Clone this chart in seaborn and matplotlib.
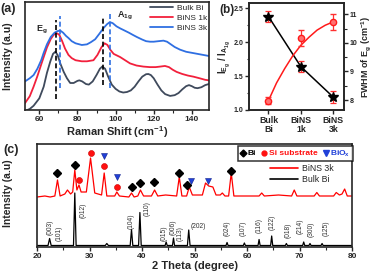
import numpy as np
import pandas as pd
import matplotlib
matplotlib.use("Agg")
import matplotlib.pyplot as plt
import seaborn as sns
from matplotlib.lines import Line2D
from matplotlib.ticker import MultipleLocator

# ---- (a) Raman spectra, (shift, intensity) ----
raman_bulk = [(52.5, -0.03), (55, -0.01), (57, 0.02), (60, 0.09), (62.3, 0.2), (64, 0.33), (65.8, 0.44),
              (67.2, 0.51), (68.4, 0.53), (69.6, 0.5), (71, 0.42), (72.8, 0.34), (74.5, 0.28), (76.2, 0.235),
              (78, 0.235), (80, 0.255), (81, 0.26), (82.5, 0.25), (84.5, 0.225), (86, 0.22), (88, 0.25),
              (90, 0.31), (91.8, 0.37), (93, 0.39), (94.5, 0.37), (96, 0.3), (98, 0.22), (100, 0.18),
              (102, 0.155), (104, 0.145), (106, 0.15), (108, 0.165), (110, 0.2), (112, 0.25), (114, 0.295),
              (116, 0.318), (117.2, 0.32), (118.5, 0.31), (120, 0.28), (122, 0.22), (124, 0.165), (126, 0.13),
              (128.6, 0.113), (131, 0.12), (133, 0.14), (135, 0.175), (137, 0.205), (138.5, 0.215),
              (140, 0.205), (141.5, 0.19), (143, 0.186), (145, 0.195), (147, 0.215), (149, 0.226)]
raman_1k = [(52.5, 0.045), (55, 0.11), (57, 0.2), (59, 0.3), (61, 0.41), (62.3, 0.48), (64, 0.57), (66, 0.65),
            (67.5, 0.69), (69.2, 0.705), (70.5, 0.69), (72, 0.63), (73.5, 0.56), (75.3, 0.5), (77, 0.47),
            (79, 0.45), (82.3, 0.44), (85, 0.44), (88.4, 0.45), (90.5, 0.5), (92.5, 0.57), (94.2, 0.61),
            (95.7, 0.595), (97.2, 0.55), (99, 0.51), (102.4, 0.48), (105, 0.45), (107.6, 0.42), (111, 0.4),
            (114.6, 0.39), (118, 0.385), (121, 0.385), (123.4, 0.39), (125.9, 0.396), (128, 0.385),
            (130, 0.36), (132, 0.34), (135, 0.32), (138, 0.305), (140.8, 0.295), (144, 0.28), (147, 0.265),
            (149, 0.26)]
raman_3k = [(52.5, 0.25), (55, 0.28), (57, 0.31), (59, 0.37), (61, 0.45), (62.3, 0.52), (64, 0.6), (66, 0.67),
            (68, 0.71), (69.5, 0.725), (71, 0.73), (72.5, 0.71), (74, 0.68), (75.3, 0.66), (77, 0.63),
            (79, 0.61), (82.3, 0.594), (85, 0.6), (87, 0.62), (89.3, 0.648), (91.5, 0.7), (93.5, 0.75),
            (95.5, 0.79), (97, 0.81), (98.5, 0.8), (100.5, 0.77), (102.5, 0.75), (104.1, 0.736), (107, 0.71),
            (109, 0.69), (111.1, 0.67), (114, 0.645), (116, 0.63), (118.1, 0.625), (120, 0.625),
            (122.5, 0.63), (125.1, 0.635), (127, 0.625), (129, 0.6), (131, 0.575), (133.8, 0.55),
            (137, 0.53), (140, 0.52), (143, 0.51), (146, 0.5), (149, 0.49)]
raman_names = ["Bulk Bi", "BiNS 1k", "BiNS 3k"]
raman_colors = ["#3f4a5c", "#f2203c", "#2f6fe2"]
# dashed guide lines: (position, ymin, ymax, colour)
peak_lines = [(68.8, 0.085, 0.83, "black"), (70.6, 0.19, 0.87, "#2f6fe2"),
              (93.6, 0.22, 0.86, "black"), (97.1, 0.19, 0.9, "#2f6fe2")]

# ---- (b) ratio and FWHM ----
samples = ["Bulk\nBi", "BiNS\n1k", "BiNS\n3k"]
ratio = [2.38, 1.64, 1.19]
ratio_err = [0.08, 0.08, 0.09]
fwhm = [7.98, 10.16, 10.74]
fwhm_err = [0.12, 0.28, 0.28]
fit_x = [0, 0.25, 0.5, 0.75, 1.0, 1.25, 1.5, 1.75, 2.0]
fit_y = [7.98, 8.6, 9.1, 9.55, 9.92, 10.2, 10.45, 10.62, 10.74]

# ---- (c) XRD patterns (2theta, intensity) ----
xrd_bulk = [(20, 0.015), (22.1, 0.015), (22.4, 0.085), (22.7, 0.015), (26.95, 0.015), (27.2, 0.54),
            (27.45, 0.015), (33.0, 0.015), (33.3, 0.035), (33.6, 0.015), (37.75, 0.015), (38.0, 0.175),
            (38.25, 0.015), (39.35, 0.015), (39.6, 0.345), (39.85, 0.015), (44.4, 0.015), (44.6, 0.05),
            (44.8, 0.015), (45.8, 0.015), (46.0, 0.09), (46.2, 0.015), (48.65, 0.015), (48.9, 0.17),
            (49.15, 0.015), (56.0, 0.015), (56.2, 0.045), (56.4, 0.015), (59.3, 0.015), (59.5, 0.04),
            (59.7, 0.015), (62.1, 0.015), (62.3, 0.075), (62.5, 0.015), (64.5, 0.015), (64.7, 0.11),
            (64.9, 0.015), (67.3, 0.015), (67.5, 0.035), (67.7, 0.015), (70.6, 0.015), (70.8, 0.05),
            (71.0, 0.015), (71.8, 0.015), (72.0, 0.035), (72.2, 0.015), (74.1, 0.015), (74.3, 0.035),
            (74.5, 0.015), (80, 0.015)]
xrd_3k = [(20, 0.50), (21.5, 0.51), (22.5, 0.50), (23.4, 0.51), (23.9, 0.67), (24.4, 0.51), (25.3, 0.53),
          (25.8, 0.57), (26.4, 0.53), (26.8, 0.55), (27.2, 0.77), (27.6, 0.57), (28.0, 0.62), (28.4, 0.55),
          (29.4, 0.55), (30.2, 0.89), (31.0, 0.54), (32.3, 0.52), (32.8, 0.74), (33.3, 0.51), (34.8, 0.51),
          (35.2, 0.55), (35.7, 0.51), (37.5, 0.50), (38.0, 0.54), (38.5, 0.50), (39.2, 0.51), (39.7, 0.57),
          (40.3, 0.51), (41.8, 0.51), (42.4, 0.57), (43.0, 0.51), (44.5, 0.52), (46.6, 0.51), (47.1, 0.70),
          (47.6, 0.51), (48.5, 0.51), (49.0, 0.60), (49.6, 0.52), (51.5, 0.52), (52.1, 0.64), (52.7, 0.61),
          (53.5, 0.60), (54.1, 0.52), (54.9, 0.52), (55.3, 0.54), (55.8, 0.51), (56.5, 0.51), (57.0, 0.74),
          (57.5, 0.51), (60.0, 0.51), (62.3, 0.51), (62.8, 0.54), (63.3, 0.51), (66.0, 0.52), (68.5, 0.51),
          (69.0, 0.57), (69.5, 0.51), (72.8, 0.51), (73.3, 0.545), (73.8, 0.51), (76.5, 0.51),
          (77.0, 0.545), (77.6, 0.52), (78.1, 0.53), (78.6, 0.58), (79.1, 0.51), (80, 0.51)]
bi_marks = [(23.9, 0.737), (27.2, 0.82), (38.0, 0.60), (39.7, 0.643), (42.3, 0.653), (47.0, 0.737),
            (48.6, 0.62), (57.0, 0.763)]
si_marks = [(28.0, 0.67), (30.2, 0.943), (32.8, 0.81), (35.2, 0.60)]
biox_marks = [(32.8, 0.91), (35.2, 0.697), (49.3, 0.663), (52.5, 0.663)]
hkl_labels = [("(003)", 22.5, 0.195), ("(101)", 24.2, 0.14), ("(012)", 28.8, 0.365), ("(104)", 38.0, 0.26),
              ("(110)", 41.0, 0.38), ("(015)", 44.2, 0.14), ("(006)", 46.0, 0.2), ("(113)", 47.2, 0.13),
              ("(024)", 56.2, 0.19), ("(107)", 59.2, 0.19), ("(116)", 62.3, 0.215), ("(122)", 64.8, 0.25),
              ("(018)", 67.9, 0.165), ("(214)", 70.2, 0.205), ("(300)", 72.2, 0.175), ("(125)", 75.0, 0.185)]

sns.set_style("ticks")
plt.rcParams["font.family"] = ["Liberation Sans", "DejaVu Sans"]
plt.rcParams["mathtext.fontset"] = "custom"
plt.rcParams["mathtext.rm"] = "Liberation Sans"
plt.rcParams["mathtext.bf"] = "Liberation Sans:bold"
plt.rcParams["mathtext.it"] = "Liberation Sans:italic"
plt.rcParams["axes.linewidth"] = 1.2
plt.rcParams["xtick.major.width"] = 1.0
plt.rcParams["ytick.major.width"] = 1.0
plt.rcParams["xtick.minor.width"] = 0.8
plt.rcParams["ytick.minor.width"] = 0.8
plt.rcParams["xtick.major.size"] = 3
plt.rcParams["xtick.minor.size"] = 1.8
plt.rcParams["ytick.major.size"] = 3
plt.rcParams["ytick.minor.size"] = 1.8

fig = plt.figure(figsize=(3.73, 2.80), dpi=100)
ax_a = fig.add_axes([25/373, 1-110/280, 184/373, 108/280])
ax_b = fig.add_axes([249/373, 1-110/280, 95/373, 107/280])
ax_c = fig.add_axes([37/373, 1-247/280, 315/373, 103/280])

# ---------- (a) ----------
for pts, name, col in zip([raman_bulk, raman_1k, raman_3k], raman_names, raman_colors):
    df = pd.DataFrame(pts, columns=["shift", "intensity"])
    sns.lineplot(data=df, x="shift", y="intensity", color=col, lw=1.3, label=name, ax=ax_a)
for xpos, y0, y1, col in peak_lines:
    ax_a.vlines(xpos, y0, y1, colors=col, linestyles=(0, (3, 1.6)), lw=1.2)
ax_a.set_xlim(52.5, 149)
ax_a.set_ylim(-0.02, 1.0)
ax_a.set_yticks([])
ax_a.xaxis.set_major_locator(MultipleLocator(20))
ax_a.xaxis.set_minor_locator(MultipleLocator(10))
ax_a.tick_params(axis="x", labelsize=6, pad=1.5)
for t in ax_a.get_xticklabels():
    t.set_fontweight("bold")
ax_a.set_xlabel("Raman Shift (cm$^{\\mathbf{-1}}$)", fontsize=8, fontweight="bold", labelpad=0.5)
ax_a.set_ylabel("")
ax_a.text(58.3, 0.72, r"$\mathbf{E_g}$", fontsize=6.5)
ax_a.text(101, 0.85, r"$\mathbf{A_{1g}}$", fontsize=6.5)
ax_a.legend(loc="upper right", bbox_to_anchor=(1.02, 1.03), frameon=False, fontsize=6,
            handlelength=2.8, labelspacing=0.3, handletextpad=0.5, borderaxespad=0.2)
fig.text(0.0, 1-9/280, "(a)", fontsize=9, fontweight="bold", va="center")
fig.text(8/373, 1-56/280, "Intensity (a.u)", fontsize=7.5, fontweight="bold", rotation=90,
         ha="center", va="center")

# ---------- (b) ----------
xs = np.arange(len(samples))
ax_b2 = ax_b.twinx()
sns.lineplot(x=fit_x, y=fit_y, color="#ff1a1a", lw=1.1, ax=ax_b2)
ax_b2.errorbar(xs, fwhm, yerr=fwhm_err, fmt="o", ms=4.5, mfc="#ff7070", mec="#ff1a1a", mew=1.0,
               ecolor="#ff3030", elinewidth=0.9, capsize=2.2, capthick=0.9)
sns.lineplot(x=xs, y=ratio, color="black", lw=1.1, ax=ax_b)
ax_b.errorbar(xs, ratio, yerr=ratio_err, fmt="*", ms=7, color="black", ecolor="#ff3030",
              elinewidth=0.9, capsize=2.2, capthick=0.9, zorder=5)
ax_b.set_xlim(-0.6, 2.33)
ax_b.set_ylim(1.0, 2.58)
ax_b2.set_ylim(7.65, 11.4)
ax_b.set_xticks(xs)
ax_b.set_xticklabels(samples, fontsize=6.3, fontweight="bold", linespacing=1.0)
ax_b.yaxis.set_major_locator(MultipleLocator(0.5))
ax_b.yaxis.set_minor_locator(MultipleLocator(0.25))
ax_b2.yaxis.set_major_locator(MultipleLocator(1))
ax_b2.yaxis.set_minor_locator(MultipleLocator(0.5))
ax_b.tick_params(axis="y", labelsize=5, pad=1)
ax_b2.tick_params(axis="y", labelsize=5, pad=1)
ax_b.tick_params(axis="x", pad=1.5)
for t in ax_b.get_yticklabels() + ax_b2.get_yticklabels():
    t.set_fontweight("bold")
ax_b.set_ylabel(r"$\mathbf{I_{E_g}\ /\ I_{A_{1g}}}$", fontsize=7, labelpad=0.5)
ax_b2.set_ylabel(r"FWHM of E$_\mathbf{g}$ (cm$^{\mathbf{-1}}$)", fontsize=6.5, fontweight="bold",
                 labelpad=1.5)
fig.text(219/373, 1-10/280, "(b)", fontsize=8.5, fontweight="bold", va="center")

# ---------- (c) ----------
df3k = pd.DataFrame(xrd_3k, columns=["theta", "intensity"])
dfbulk = pd.DataFrame(xrd_bulk, columns=["theta", "intensity"])
sns.lineplot(data=df3k, x="theta", y="intensity", color="#ff0000", lw=0.9, ax=ax_c)
sns.lineplot(data=dfbulk, x="theta", y="intensity", color="black", lw=0.9, ax=ax_c)
bx, by = zip(*bi_marks)
ax_c.plot(bx, by, "D", color="black", ms=3.6, ls="none")
sx, sy = zip(*si_marks)
ax_c.plot(sx, sy, "o", color="#ff1010", mec="#cc0000", mew=0.4, ms=4.3, ls="none")
tx, ty = zip(*biox_marks)
ax_c.plot(tx, ty, "v", color="#2040d8", mec="#10208a", mew=0.4, ms=5, ls="none")
for lab, xpos, ypos in hkl_labels:
    ax_c.text(xpos, ypos, lab, rotation=90, fontsize=4.8, color="#333333", ha="center", va="center")
ax_c.text(49.2, 0.2, "(202)", fontsize=4.8, color="#333333", ha="left", va="center")
ax_c.set_xlim(20, 80)
ax_c.set_ylim(0, 1.03)
ax_c.set_yticks([])
ax_c.xaxis.set_major_locator(MultipleLocator(10))
ax_c.xaxis.set_minor_locator(MultipleLocator(5))
ax_c.tick_params(axis="x", labelsize=6, pad=1.5)
for t in ax_c.get_xticklabels():
    t.set_fontweight("bold")
ax_c.set_xlabel("2 Theta (degree)", fontsize=8, fontweight="bold", labelpad=0.5)
ax_c.set_ylabel("")

marker_handles = [Line2D([], [], marker="D", color="black", ls="none", ms=3.5),
                  Line2D([], [], marker="o", color="#ff1010", ls="none", ms=3.5),
                  Line2D([], [], marker="v", color="#2040d8", ls="none", ms=4.5)]
leg1 = ax_c.legend(marker_handles, ["Bi", "Si substrate", r"$\mathbf{BiO_x}$"], ncol=3, loc="upper right",
                   bbox_to_anchor=(1.005, 0.985), fontsize=6, frameon=True, fancybox=False,
                   edgecolor="black", handlelength=0.6, handletextpad=0.25, columnspacing=0.7,
                   borderpad=0.25, borderaxespad=0.1)
leg1.get_frame().set_linewidth(1.1)
for txt, col in zip(leg1.get_texts(), ["black", "#ff1010", "#2040d8"]):
    txt.set_color(col)
    txt.set_fontweight("bold")
ax_c.add_artist(leg1)
line_handles = [Line2D([], [], color="#ff0000", lw=1.2), Line2D([], [], color="black", lw=1.2)]
ax_c.legend(line_handles, ["BiNS 3k", "Bulk Bi"], loc="upper right", bbox_to_anchor=(0.955, 0.85),
            frameon=False, fontsize=6.3, handlelength=3.2, labelspacing=0.2, handletextpad=0.4,
            borderaxespad=0.1)
fig.text(3/373, 1-150/280, "(c)", fontsize=9, fontweight="bold", va="center")
fig.text(8/373, 1-193/280, "Intensity (a.u)", fontsize=7.5, fontweight="bold", rotation=90,
         ha="center", va="center")

fig.savefig("out.png", dpi=100)
print("Done: out.png")
